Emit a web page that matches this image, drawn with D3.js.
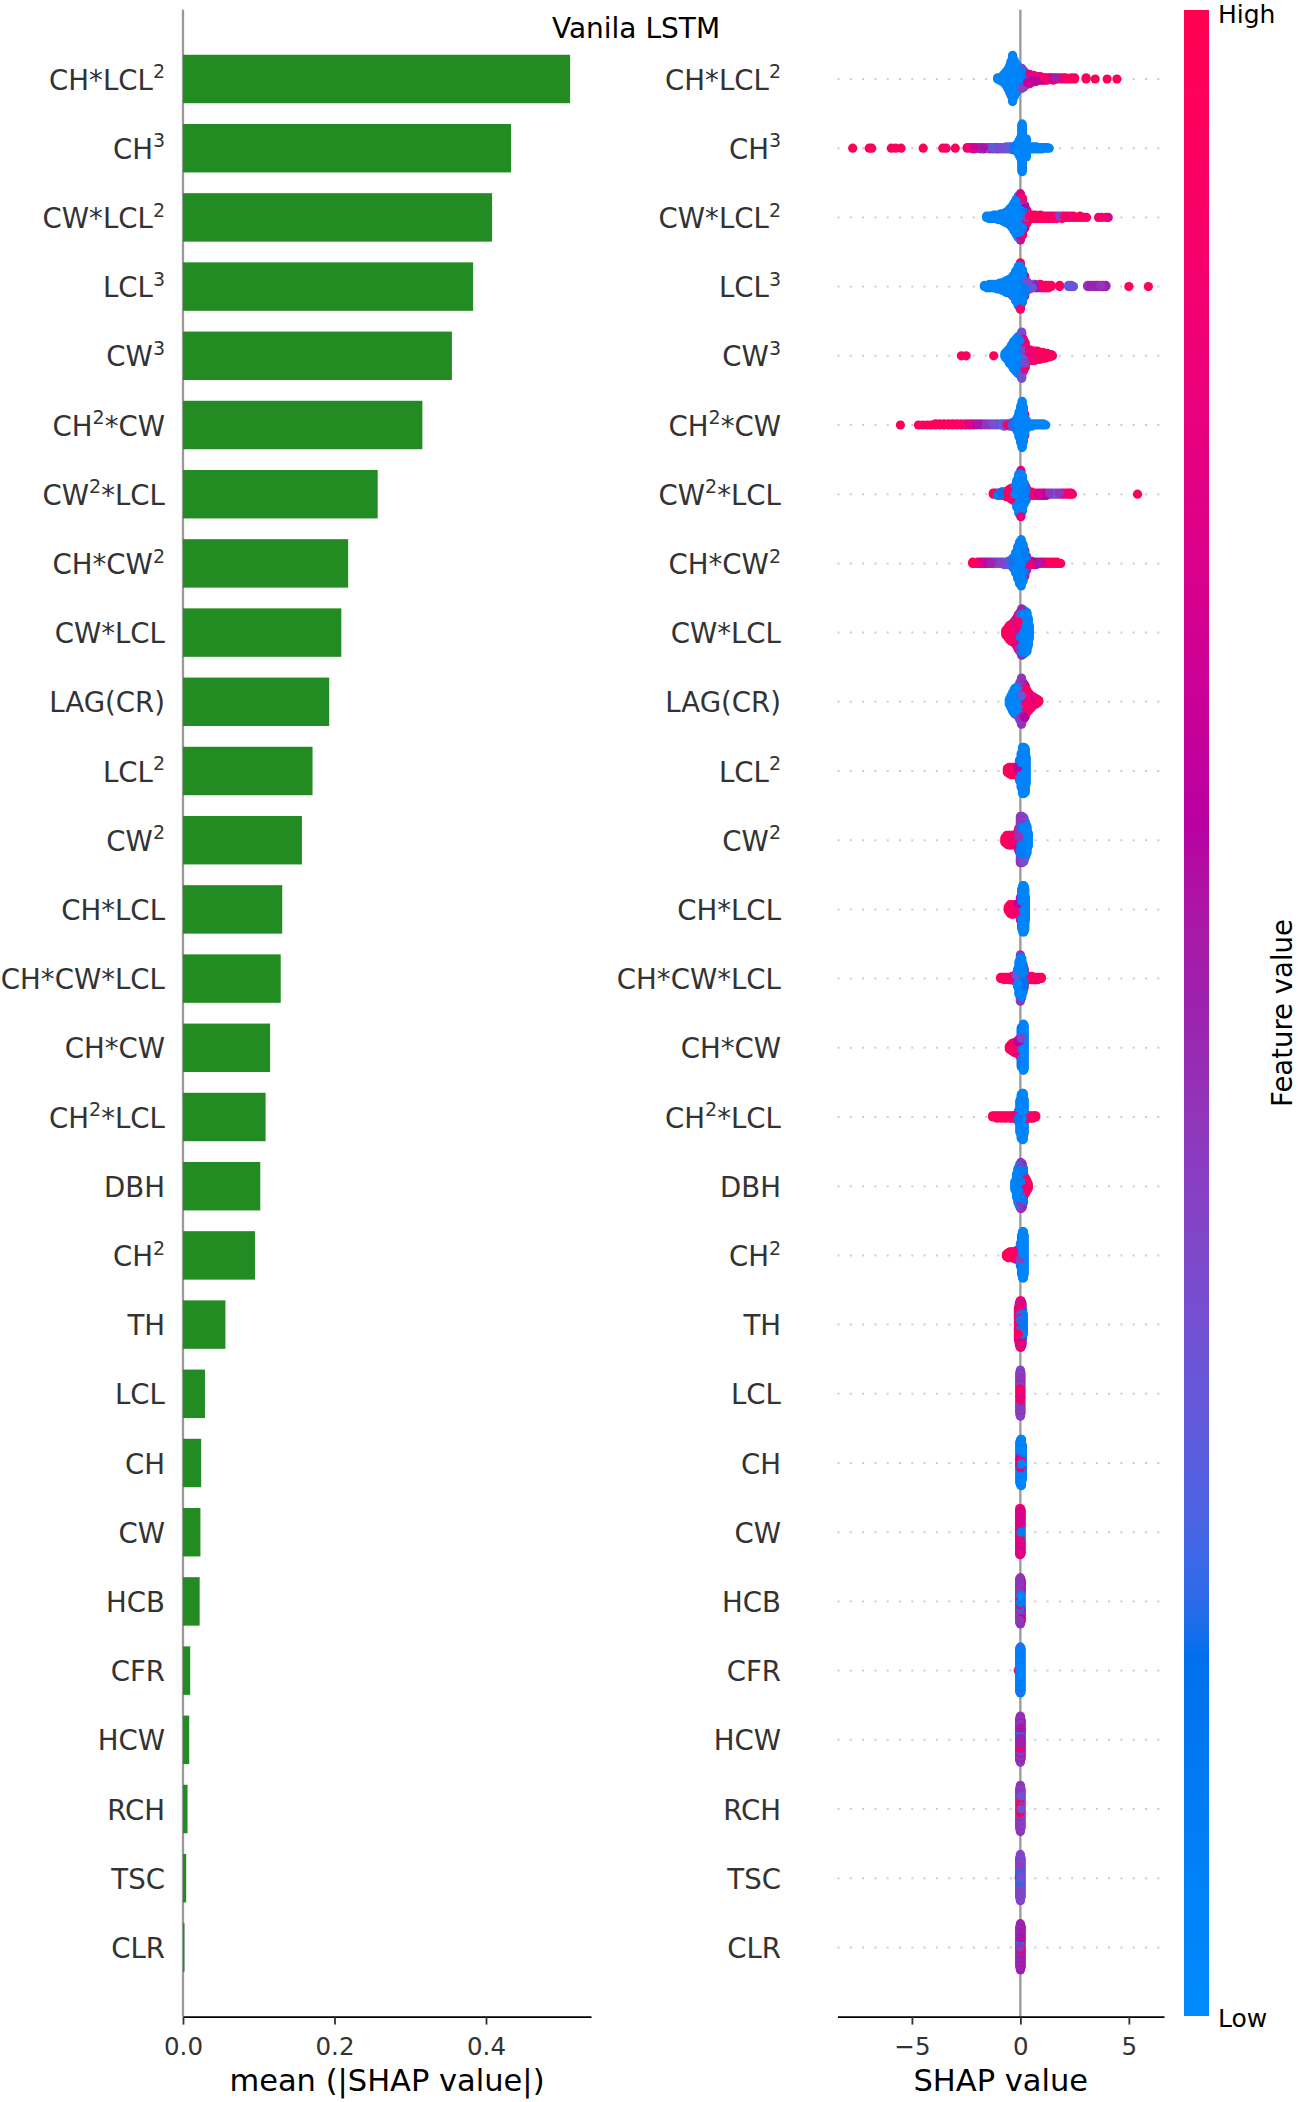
<!DOCTYPE html>
<html><head><meta charset="utf-8">
<script src="https://cdn.jsdelivr.net/npm/d3@7"></script>
<style>body{margin:0;background:#fff}svg{display:block}text{font-family:"DejaVu Sans",sans-serif}</style>
</head><body><svg id="c" width="1299" height="2102"></svg>
<script>
// ---------------- data ----------------
const features = ["CH*LCL^2","CH^3","CW*LCL^2","LCL^3","CW^3","CH^2*CW","CW^2*LCL","CH*CW^2","CW*LCL","LAG(CR)",
  "LCL^2","CW^2","CH*LCL","CH*CW*LCL","CH*CW","CH^2*LCL","DBH","CH^2","TH","LCL","CH","CW","HCB","CFR","HCW","RCH","TSC","CLR"];
const meanAbs = [0.511,0.433,0.408,0.383,0.355,0.316,0.257,0.218,0.209,0.193,0.171,0.157,0.131,0.129,0.115,0.109,0.102,0.095,
  0.056,0.029,0.024,0.023,0.022,0.0095,0.0082,0.006,0.0042,0.002];
const barTicks = [0.0, 0.2, 0.4];
const shapTicks = [-5, 0, 5];
const title = "Vanila LSTM";
// beeswarm groups per feature: [SHAP value, number of samples, normalised feature value (0 low .. 1 high)]
const swarm = [
 [[-1.05,2,.05],[-0.95,3,.05],[-0.85,5,.05],[-0.76,8,.05],[-0.67,12,.05],[-0.58,17,.05],[-0.5,23,.05],[-0.43,30,.05],[-0.36,40,.05],[-0.29,32,.05],[-0.21,26,.05],[-0.12,22,.05],[-0.03,18,.08],[0.06,15,.1],[0.06,3,.4],[0.15,11,.1],[0.15,4,.45],[0.24,6,.15],[0.24,5,.5],[0.33,5,.45],[0.33,4,.65],[0.42,5,.55],[0.42,4,.75],[0.52,4,.5],[0.52,3,.7],[0.62,4,.6],[0.62,2,.85],[0.72,5,.65],[0.82,4,.55],[0.92,4,.8],[1.02,3,.6],[1.12,3,.9],[1.22,3,.95],[1.32,2,.6],[1.42,2,.7],[1.52,3,.9],[1.62,2,.5],[1.72,2,.95],[1.85,2,.85],[1.98,2,.95],[2.1,2,.9],[2.22,1,.95],[2.35,2,.95],[2.5,2,.95],[3.03,2,.95],[3.45,1,.95],[4.0,1,.95],[4.45,1,.95]],
 [[-7.73,1,.95],[-6.97,1,.95],[-6.85,1,.95],[-5.95,1,.95],[-5.75,1,.95],[-5.5,1,.95],[-4.48,1,.95],[-3.58,1,.95],[-3.42,1,.9],[-3.0,1,.95],[-2.45,2,.85],[-2.3,2,.6],[-2.15,3,.7],[-2.0,2,.5],[-1.85,3,.45],[-1.7,3,.55],[-1.55,2,.35],[-1.4,3,.45],[-1.25,3,.3],[-1.1,3,.5],[-0.95,3,.35],[-0.8,3,.4],[-0.65,4,.3],[-0.5,4,.25],[-0.38,5,.2],[-0.26,7,.1],[-0.15,12,.05],[-0.06,22,.05],[0.02,32,.05],[0.08,40,.05],[0.14,32,.05],[0.2,18,.05],[0.27,10,.05],[0.38,4,.05],[0.5,4,.05],[0.62,4,.05],[0.74,4,.05],[0.86,3,.05],[0.98,3,.05],[1.1,2,.05],[1.22,2,.05],[1.33,1,.05]],
 [[-1.56,2,.05],[-1.45,3,.05],[-1.34,3,.05],[-1.23,4,.05],[-1.12,4,.05],[-1.01,5,.05],[-0.9,6,.05],[-0.8,7,.05],[-0.7,9,.05],[-0.6,11,.05],[-0.5,14,.08],[-0.4,18,.05],[-0.3,24,.05],[-0.2,30,.05],[-0.1,36,.05],[0,32,.05],[0,8,.75],[0.1,26,.1],[0.1,6,.85],[0.2,14,.15],[0.2,6,.6],[0.3,8,.4],[0.3,4,.9],[0.42,2,.95],[0.42,2,.6],[0.55,4,.9],[0.68,4,.95],[0.8,3,.7],[0.92,4,.95],[1.05,3,.85],[1.18,3,.95],[1.3,3,.5],[1.42,3,.9],[1.55,3,.95],[1.68,3,.85],[1.8,2,.4],[1.92,3,.95],[2.05,2,.9],[2.18,2,.95],[2.3,2,.85],[2.45,2,.95],[2.6,1,.9],[2.75,2,.95],[2.9,1,.95],[3.05,1,.9],[3.6,1,.85],[3.75,1,.9],[3.95,1,.8],[4.05,1,.75]],
 [[-1.66,2,.05],[-1.54,3,.05],[-1.42,4,.05],[-1.3,4,.05],[-1.18,4,.05],[-1.06,5,.05],[-0.95,6,.05],[-0.84,7,.05],[-0.74,9,.05],[-0.64,11,.05],[-0.54,12,.05],[-0.45,10,.05],[-0.45,3,.85],[-0.35,18,.05],[-0.22,26,.05],[-0.1,34,.05],[0,34,.05],[0,6,.9],[0.1,28,.08],[0.2,14,.1],[0.2,4,.7],[0.3,8,.35],[0.42,5,.4],[0.55,4,.3],[0.68,4,.5],[0.8,3,.55],[0.92,4,.95],[1.05,3,.95],[1.18,3,.9],[1.3,3,.95],[1.42,2,.95],[1.81,2,.95],[2.22,2,.3],[2.35,2,.35],[2.45,1,.3],[3.1,2,.45],[3.22,2,.5],[3.34,2,.4],[3.46,2,.5],[3.58,2,.55],[3.7,2,.45],[3.82,2,.7],[3.94,2,.5],[5.0,1,.95],[5.9,1,.95]],
 [[-2.72,1,.95],[-2.5,1,.95],[-1.23,1,.95],[-0.71,4,.05],[-0.61,8,.05],[-0.51,13,.05],[-0.41,18,.05],[-0.31,24,.05],[-0.21,28,.05],[-0.11,32,.05],[-0.02,34,.08],[0.06,26,.1],[0.06,14,.35],[0.14,20,.3],[0.14,8,.8],[0.22,14,.4],[0.22,8,.9],[0.3,10,.9],[0.42,10,.85],[0.54,9,.95],[0.66,9,.8],[0.78,8,.95],[0.9,7,.9],[1.02,6,.95],[1.14,5,.8],[1.24,4,.95],[1.34,3,.9],[1.42,2,.95],[1.48,1,.95]],
 [[-5.53,1,.95],[-4.7,1,.95],[-4.5,1,.95],[-4.3,1,.95],[-4.12,1,.95],[-3.92,2,.95],[-3.72,2,.95],[-3.52,2,.95],[-3.32,2,.95],[-3.12,2,.95],[-2.92,2,.9],[-2.72,2,.95],[-2.52,2,.85],[-2.34,2,.75],[-2.16,2,.65],[-1.98,2,.55],[-1.8,2,.5],[-1.62,2,.45],[-1.44,2,.4],[-1.26,2,.35],[-1.08,2,.4],[-0.9,2,.3],[-0.74,3,.35],[-0.6,2,.9],[-0.48,3,.3],[-0.37,4,.2],[-0.26,6,.1],[-0.15,12,.05],[-0.06,22,.05],[0.02,32,.05],[0.08,40,.05],[0.14,30,.05],[0.2,16,.05],[0.2,3,.8],[0.27,8,.05],[0.38,3,.05],[0.52,3,.05],[0.66,2,.05],[0.8,2,.05],[0.94,2,.05],[1.06,2,.05],[1.17,1,.05]],
 [[-1.25,2,.95],[-1.15,2,.9],[-1.05,3,.1],[-0.95,3,.05],[-0.85,4,.15],[-0.76,4,.3],[-0.67,5,.9],[-0.58,6,.95],[-0.5,5,.95],[-0.5,3,.6],[-0.42,5,.1],[-0.42,5,.9],[-0.34,7,.05],[-0.34,4,.8],[-0.25,14,.05],[-0.16,24,.05],[-0.07,34,.05],[0.02,36,.05],[0.02,4,.8],[0.1,30,.05],[0.18,18,.08],[0.26,10,.1],[0.26,2,.85],[0.36,4,.9],[0.48,4,.95],[0.6,3,.8],[0.72,3,.95],[0.84,3,.7],[0.96,3,.75],[1.08,3,.6],[1.2,3,.5],[1.32,2,.45],[1.44,2,.4],[1.56,2,.35],[1.68,2,.4],[1.8,2,.45],[1.92,2,.5],[2.04,2,.9],[2.16,2,.95],[2.26,2,.85],[2.34,2,.95],[2.4,1,.9],[5.4,1,.95]],
 [[-2.2,2,.95],[-2.08,1,.95],[-1.96,2,.85],[-1.84,2,.75],[-1.72,2,.7],[-1.6,2,.6],[-1.48,2,.55],[-1.36,2,.5],[-1.24,2,.45],[-1.12,2,.4],[-1.0,2,.35],[-0.88,2,.4],[-0.76,3,.3],[-0.64,3,.35],[-0.53,4,.25],[-0.42,6,.2],[-0.32,10,.1],[-0.22,18,.05],[-0.12,28,.05],[-0.04,36,.05],[0.04,40,.05],[0.12,32,.05],[0.2,20,.1],[0.2,3,.5],[0.28,10,.15],[0.28,3,.8],[0.38,3,.85],[0.38,2,.95],[0.5,4,.8],[0.62,3,.6],[0.74,3,.5],[0.86,2,.55],[0.98,2,.7],[1.12,2,.9],[1.26,2,.95],[1.4,2,.95],[1.54,2,.9],[1.68,2,.95],[1.78,1,.95],[1.86,1,.95]],
 [[-0.67,5,.95],[-0.58,9,.95],[-0.5,13,.95],[-0.42,15,.9],[-0.34,17,.9],[-0.26,14,.95],[-0.26,6,.7],[-0.18,14,.8],[-0.18,10,.5],[-0.1,16,.5],[-0.1,14,.9],[-0.02,20,.2],[-0.02,14,.45],[0.06,34,.08],[0.06,6,.5],[0.14,38,.05],[0.22,36,.05],[0.3,34,.05],[0.36,24,.05],[0.41,12,.05]],
 [[-0.51,5,.05],[-0.43,11,.05],[-0.35,17,.05],[-0.27,22,.05],[-0.19,24,.05],[-0.11,22,.05],[-0.11,4,.9],[-0.03,26,.08],[-0.03,6,.4],[0.05,24,.3],[0.05,16,.45],[0.13,18,.7],[0.13,14,.5],[0.21,22,.85],[0.21,6,.6],[0.3,20,.9],[0.4,15,.85],[0.5,11,.9],[0.6,8,.8],[0.7,6,.95],[0.78,4,.95],[0.85,2,.95]],
 [[-0.6,4,.95],[-0.52,6,.95],[-0.44,7,.95],[-0.36,7,.9],[-0.28,7,.95],[-0.2,6,.85],[-0.12,8,.6],[-0.04,10,.3],[-0.04,8,.1],[0.04,30,.05],[0.1,40,.05],[0.16,40,.05],[0.22,38,.05],[0.26,24,.05]],
 [[-0.71,5,.95],[-0.63,8,.95],[-0.55,9,.95],[-0.47,9,.9],[-0.39,9,.95],[-0.31,8,.85],[-0.23,9,.75],[-0.15,12,.6],[-0.07,14,.45],[-0.07,6,.8],[0.0,24,.1],[0.0,16,.45],[0.08,26,.08],[0.08,14,.4],[0.16,30,.05],[0.16,8,.35],[0.24,30,.05],[0.3,24,.05],[0.36,12,.05]],
 [[-0.56,4,.95],[-0.48,8,.95],[-0.4,9,.95],[-0.32,9,.9],[-0.24,8,.85],[-0.16,8,.8],[-0.08,10,.6],[0.0,14,.1],[0.0,6,.5],[0.06,34,.08],[0.11,40,.05],[0.16,40,.05],[0.2,36,.05],[0.23,20,.05]],
 [[-0.91,2,.95],[-0.82,2,.95],[-0.73,3,.95],[-0.64,2,.9],[-0.55,3,.95],[-0.46,3,.9],[-0.37,4,.85],[-0.28,5,.6],[-0.2,8,.3],[-0.13,16,.05],[-0.06,30,.05],[0.0,38,.05],[0.0,4,.45],[0.06,36,.05],[0.12,26,.08],[0.17,14,.15],[0.17,4,.7],[0.25,5,.9],[0.34,4,.95],[0.43,4,.9],[0.52,4,.95],[0.61,3,.95],[0.7,3,.9],[0.79,3,.95],[0.88,2,.95],[0.97,2,.95]],
 [[-0.51,3,.95],[-0.43,6,.95],[-0.35,8,.9],[-0.27,9,.85],[-0.19,10,.75],[-0.11,12,.6],[-0.03,16,.5],[0.04,22,.4],[0.04,12,.1],[0.1,34,.1],[0.14,40,.05],[0.17,38,.05]],
 [[-1.28,2,.95],[-1.18,2,.95],[-1.08,3,.95],[-0.98,2,.95],[-0.88,3,.95],[-0.78,2,.95],[-0.68,3,.95],[-0.58,2,.9],[-0.48,3,.95],[-0.38,3,.9],[-0.28,3,.95],[-0.18,4,.85],[-0.09,10,.1],[-0.02,28,.05],[0.04,38,.05],[0.09,40,.05],[0.13,40,.05],[0.17,30,.05],[0.27,3,.95],[0.37,3,.95],[0.47,3,.95],[0.57,3,.9],[0.67,2,.95],[0.71,2,.95]],
 [[-0.25,8,.05],[-0.18,20,.05],[-0.11,30,.05],[-0.04,36,.05],[0.02,28,.08],[0.02,12,.45],[0.08,26,.1],[0.08,12,.5],[0.14,18,.8],[0.14,12,.1],[0.2,16,.9],[0.26,12,.95],[0.31,8,.9],[0.36,5,.95]],
 [[-0.64,3,.95],[-0.56,5,.95],[-0.48,6,.95],[-0.4,6,.9],[-0.32,6,.9],[-0.24,7,.8],[-0.16,8,.65],[-0.08,10,.5],[0.0,14,.4],[0.0,6,.1],[0.06,34,.08],[0.1,40,.05],[0.14,40,.05],[0.17,34,.05]],
 [[-0.09,20,.9],[-0.09,8,.75],[-0.05,24,.85],[-0.05,12,.5],[-0.01,16,.2],[-0.01,24,.9],[0.03,20,.1],[0.03,20,.7],[0.07,22,.05],[0.07,14,.6],[0.1,26,.1],[0.13,18,.1]],
 [[-0.02,8,.9],[-0.02,28,.45],[0,12,.9],[0,28,.4],[0.02,6,.8],[0.02,30,.5]],
 [[-0.02,10,.6],[-0.02,26,.1],[0.02,12,.85],[0.02,28,.05],[0.05,40,.05],[0.09,30,.08]],
 [[-0.03,32,.75],[-0.03,6,.9],[0,10,.95],[0,28,.7],[0.03,10,.1],[0.03,26,.75]],
 [[-0.03,8,.85],[-0.03,30,.45],[0,12,.1],[0,28,.45],[0.03,10,.05],[0.03,26,.6]],
 [[-0.1,1,.95],[-0.03,30,.05],[-0.03,6,.3],[0,2,.95],[0,36,.1],[0.03,36,.05]],
 [[-0.03,36,.5],[0,8,.1],[0,10,.85],[0,22,.45],[0.03,34,.55]],
 [[-0.03,34,.4],[0,10,.95],[0,30,.45],[0.03,34,.35]],
 [[-0.05,2,.9],[-0.03,34,.42],[0,10,.2],[0,30,.4],[0.03,34,.35]],
 [[-0.03,34,.45],[0,8,.05],[0,32,.5],[0.03,6,.9],[0.03,30,.55]]
];

// ---------------- colour map (shap red_blue, LCH) ----------------
function lab2rgb(L,a,b){
  const fy=(L+16)/116, fx=fy+a/500, fz=fy-b/200;
  const fi=t=> t>6/29 ? t*t*t : 3*(6/29)*(6/29)*(t-4/29);
  const X=0.95047*fi(fx), Y=fi(fy), Z=Math.max(0,1.08883*fi(fz));
  const r=3.2404542*X-1.5371385*Y-0.4985314*Z, g=-0.9692660*X+1.8760108*Y+0.0415560*Z, bl=0.0556434*X-0.2040259*Y+1.0572252*Z;
  const gm=v=> v>0.0031308 ? 1.055*Math.pow(v,1/2.4)-0.055 : 12.92*v;
  return [r,g,bl].map(v=>Math.max(0,Math.min(1,gm(v)))*255);
}
const NS=100, H0=4.6588, H1=0.35470565+2*Math.PI;
const cmapS = d3.range(NS).map(i=>{
  const l = i<NS/2 ? 54+(40-54)*i/(NS/2-1) : 40+(54-40)*(i-NS/2)/(NS/2-1);
  const c = 70+20*i/(NS-1), h = H0+(H1-H0)*i/(NS-1);
  return lab2rgb(l, c*Math.cos(h), c*Math.sin(h));
});
function cmap(t){
  t=Math.max(0,Math.min(1,t)); const p=t*(NS-1), i=Math.min(NS-2,Math.floor(p)), f=p-i;
  const a=cmapS[i], b=cmapS[i+1];
  return d3.rgb(a[0]+(b[0]-a[0])*f, a[1]+(b[1]-a[1])*f, a[2]+(b[2]-a[2])*f).formatHex();
}

// ---------------- layout ----------------
const svg = d3.select("#c");
const n = features.length;
const y = d3.scaleLinear().domain([-1, n]).range([9.8, 2016.6]);
const STEP = y(1)-y(0);
const xL = d3.scaleLinear().domain([0, 0.5386]).range([183, 591]);
const xR = d3.scaleLinear().domain([-8.43, 6.62]).range([837.5, 1164]);
const AXY = y(n);
const LFS = 27.6;

function addLabel(g, x, yy, str){
  const t = g.append("text").attr("x",x).attr("y",yy).attr("text-anchor","end")
    .attr("font-size",LFS).attr("fill","#333");
  const parts = str.split("^");
  t.append("tspan").text(parts[0]);
  for (let k=1;k<parts.length;k++){
    const p=parts[k];
    t.append("tspan").attr("dy",-11.5).attr("font-size",19).text(p[0]);
    if (p.length>1) t.append("tspan").attr("dy",11.5).text(p.slice(1));
  }
}

// title
svg.append("text").attr("x",636).attr("y",38).attr("text-anchor","middle").attr("font-size",28).attr("fill","#000").text(title);

// ---- left: bar chart ----
const gL = svg.append("g");
gL.append("line").attr("x1",xL(0)).attr("x2",xL(0)).attr("y1",y(-1)).attr("y2",AXY).attr("stroke","#999").attr("stroke-width",2.3);
gL.selectAll("rect.bar").data(meanAbs).join("rect").attr("class","bar")
  .attr("x",xL(0)).attr("y",(d,i)=>y(i)-0.35*STEP).attr("width",d=>xL(d)-xL(0)).attr("height",0.7*STEP)
  .attr("fill","#228B22");
features.forEach((f,i)=>addLabel(gL, 165, y(i)+10.6, f));
const axL = gL.append("g").attr("transform",`translate(0,${AXY})`)
  .call(d3.axisBottom(xL).tickValues(barTicks).tickFormat(d3.format(".1f")).tickSize(8).tickSizeOuter(0));
axL.select(".domain").attr("stroke","#000").attr("stroke-width",1.8);
axL.selectAll(".tick line").attr("stroke","#333").attr("stroke-width",1.8);
axL.selectAll(".tick text").attr("y",38.4).attr("dy",null).attr("font-size",24.5).attr("fill","#333").attr("font-family","DejaVu Sans");
gL.append("text").attr("x",(xL.range()[0]+xL.range()[1])/2).attr("y",2091).attr("text-anchor","middle")
  .attr("font-size",30.5).attr("fill","#000").text("mean (|SHAP value|)");

// ---- right: beeswarm ----
const gR = svg.append("g");
features.forEach((f,i)=>{
  gR.append("line").attr("x1",xR.range()[0]).attr("x2",xR.range()[1]).attr("y1",y(i)).attr("y2",y(i))
    .attr("stroke","#ccc").attr("stroke-width",2).attr("stroke-dasharray","2 10.3");
});
gR.append("line").attr("x1",xR(0)).attr("x2",xR(0)).attr("y1",y(-1)).attr("y2",AXY).attr("stroke","#999").attr("stroke-width",2.3);
features.forEach((f,i)=>addLabel(gR, 781, y(i)+10.6, f));

const allPts = [];
swarm.forEach((groups,row)=>{
  const pts=[];
  groups.forEach(([v,cnt,c])=>{ for(let k=0;k<cnt;k++) pts.push({v,c,row,o:pts.length}); });
  const mn=d3.min(pts,p=>p.v), mx=d3.max(pts,p=>p.v);
  pts.forEach(p=>p.q=Math.round(100*(p.v-mn)/(mx-mn+1e-8)));
  const sorted=pts.slice().sort((a,b)=>a.q-b.q||a.o-b.o);
  let layer=0,last=-1;
  sorted.forEach(p=>{ if(p.q!==last) layer=0; p.ys=Math.ceil(layer/2)*((layer%2)*2-1); layer++; last=p.q; });
  const m=d3.max(pts,p=>p.ys+1);
  pts.forEach(p=>{ p.ys*=0.9*(0.4/m); allPts.push(p); });
});
allPts.forEach((p,i)=>p.z=(i*0.6180339887)%1);
allPts.sort((a,b)=>a.z-b.z);
gR.append("g").selectAll("circle").data(allPts).join("circle")
  .attr("cx",p=>xR(p.v)).attr("cy",p=>y(p.row)-p.ys*STEP).attr("r",4.6).attr("fill",p=>cmap(p.c));

const axR = gR.append("g").attr("transform",`translate(0,${AXY})`)
  .call(d3.axisBottom(xR).tickValues(shapTicks).tickFormat(d=>d<0?"\u2212"+Math.abs(d):String(d)).tickSize(8).tickSizeOuter(0));
axR.select(".domain").attr("stroke","#000").attr("stroke-width",1.8);
axR.selectAll(".tick line").attr("stroke","#333").attr("stroke-width",1.8);
axR.selectAll(".tick text").attr("y",38.4).attr("dy",null).attr("font-size",24.5).attr("fill","#333").attr("font-family","DejaVu Sans");
gR.append("text").attr("x",(xR.range()[0]+xR.range()[1])/2).attr("y",2091).attr("text-anchor","middle")
  .attr("font-size",30.5).attr("fill","#000").text("SHAP value");

// ---- colour bar ----
const defs = svg.append("defs");
const grad = defs.append("linearGradient").attr("id","cbg").attr("x1",0).attr("y1",1).attr("x2",0).attr("y2",0);
d3.range(0,101).forEach(k=>grad.append("stop").attr("offset",k/100).attr("stop-color",cmap(k/100)));
const cbTop=10, cbBot=2016;
svg.append("rect").attr("x",1184).attr("y",cbTop).attr("width",25).attr("height",cbBot-cbTop).attr("fill","url(#cbg)");
svg.append("text").attr("x",1218).attr("y",cbTop+12.5).attr("font-size",25).attr("fill","#000").text("High");
svg.append("text").attr("x",1218).attr("y",cbBot+10.5).attr("font-size",25).attr("fill","#000").text("Low");
svg.append("text").attr("transform",`translate(1292,${(cbTop+cbBot)/2}) rotate(-90)`).attr("text-anchor","middle")
  .attr("font-size",27.5).attr("fill","#000").text("Feature value");
</script></body></html>
